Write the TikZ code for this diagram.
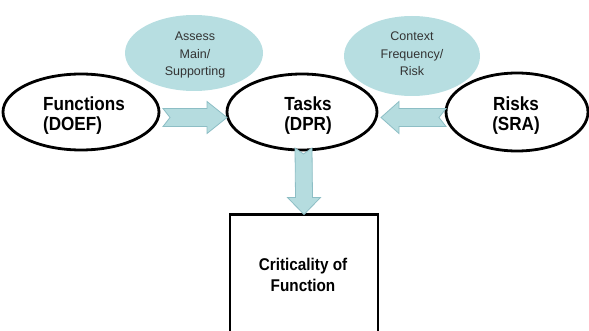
\documentclass[tikz,border=0pt]{standalone}
\usepackage{fontspec}
\setmainfont{Liberation Sans}
\newfontfamily\boldlab[FakeStretch=0.9]{Liberation Sans}
\usetikzlibrary{shapes.geometric,calc}
\definecolor{paleblue}{HTML}{B7DEE1}
\definecolor{arrowfill}{HTML}{B5DCDF}
\definecolor{arrowline}{HTML}{8DBEC5}
\definecolor{graytext}{HTML}{333333}
\tikzset{
  mainell/.style={ellipse, draw=black, line width=2.8pt, fill=white, outer sep=0pt, inner sep=0pt},
  blueell/.style={ellipse, fill=paleblue, draw=none, outer sep=0pt, inner sep=0pt},
  boldtxt/.style={font=\boldlab\bfseries\fontsize{19}{20}\selectfont, text=black},
  smalltxt/.style={font=\fontsize{12.5}{17.5}\selectfont, text=graytext, align=center},
  blockarrow/.style={fill=arrowfill, draw=arrowline, line width=0.8pt, line join=miter},
  critbox/.style={rectangle, draw=black, line width=2.8pt, fill=white, outer sep=0pt}
}
\begin{document}
\begin{tikzpicture}[x=1pt,y=-1pt]
\useasboundingbox (0,0) rectangle (589,331);
\begin{scope}
\clip (0,0) rectangle (589,331);
% background bubbles
\node[blueell, minimum width=138pt, minimum height=76pt] (assess) at (194,53) {};
\node[blueell, minimum width=136pt, minimum height=80pt] (context) at (412,56) {};
\node[smalltxt] (assessT) at (195,55) {Assess\\Main/\\Supporting};
\node[smalltxt] (contextT) at (412,54) {Context\\Frequency/\\Risk};
% main ellipses
\node[mainell, minimum width=156pt, minimum height=76pt] (fun) at (81,112) {};
\node[mainell, minimum width=150pt, minimum height=76pt] (tasks) at (302,112) {};
\node[mainell, minimum width=142pt, minimum height=78pt] (risks) at (517,112) {};
\node[boldtxt, align=left] (funT) at (84,116) {Functions\\(DOEF)};
\node[boldtxt, align=center] (tasksT) at (308,116) {Tasks\\(DPR)};
\node[boldtxt, align=center] (risksT) at (516,116) {Risks\\(SRA)};
% result box
\node[critbox, minimum width=148pt, minimum height=118pt] (crit) at (304,273.5) {};
\node[boldtxt, font=\boldlab\bfseries\fontsize{17}{21}\selectfont, align=center] (critT) at (303,275) {Criticality of\\Function};
% arrow Functions -> Tasks
\coordinate (a1t) at ($(fun.east)+(4,5.5)$);
\coordinate (a1h) at ($(tasks.west)+(0,5.5)$);
\draw[blockarrow] ($(a1t)+(0,-9)$) -- ($(a1h)+(-20,-9)$) -- ($(a1h)+(-20,-16)$) -- (a1h)
  -- ($(a1h)+(-20,16)$) -- ($(a1h)+(-20,9)$) -- ($(a1t)+(0,9)$) -- ($(a1t)+(7,0)$) -- cycle;
% arrow Risks -> Tasks
\coordinate (a2t) at ($(risks.west)+(0,5.5)$);
\coordinate (a2h) at ($(tasks.east)+(4,5.5)$);
\draw[blockarrow] ($(a2t)+(0,-9)$) -- ($(a2h)+(18,-9)$) -- ($(a2h)+(18,-16)$) -- (a2h)
  -- ($(a2h)+(18,16)$) -- ($(a2h)+(18,9)$) -- ($(a2t)+(0,9)$) -- ($(a2t)+(-7,0)$) -- cycle;
% arrow Tasks -> Criticality
\coordinate (a3t) at ($(tasks.south)+(1.5,-2)$);
\coordinate (a3h) at (crit.north);
\draw[blockarrow] ($(a3t)+(-8.5,0)$) -- ($(a3h)+(-8.5,-17)$) -- ($(a3h)+(-16.5,-17)$) -- (a3h)
  -- ($(a3h)+(16.5,-17)$) -- ($(a3h)+(8.5,-17)$) -- ($(a3t)+(8.5,0)$) -- ($(a3t)+(0,6)$) -- cycle;
\end{scope}
\end{tikzpicture}
\end{document}
